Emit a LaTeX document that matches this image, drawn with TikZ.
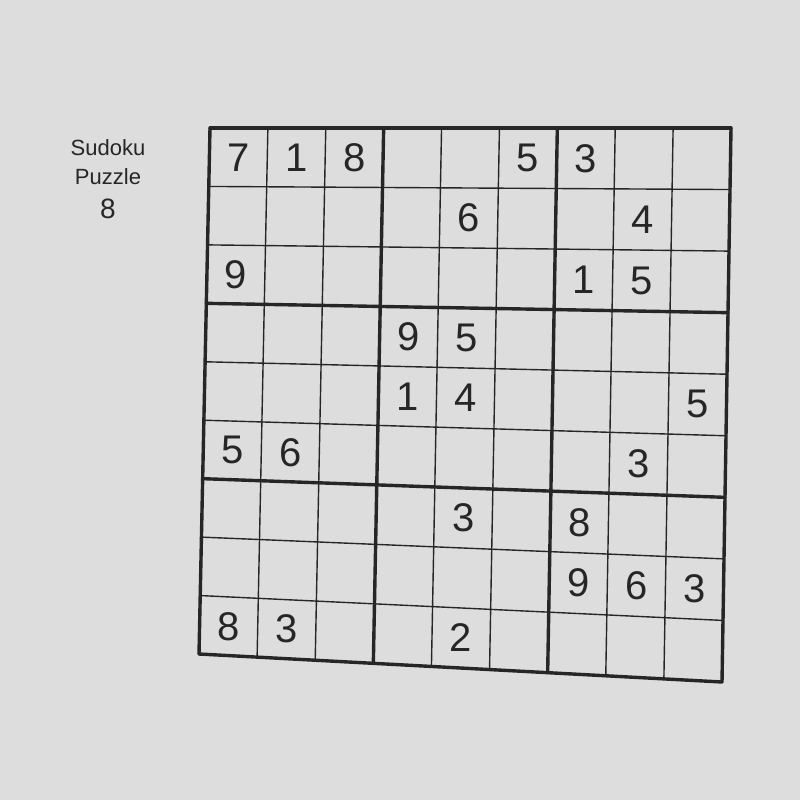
\documentclass[tikz,border=0pt]{standalone}
\usepackage{fontspec}
\setmainfont{Liberation Sans}
\usetikzlibrary{calc,positioning}

\definecolor{paper}{RGB}{221,221,221}
\definecolor{ink}{RGB}{38,38,38}

\tikzset{
  every digit/.style={font=\fontsize{40}{40}\selectfont, text=ink, inner sep=0pt},
  thin rule/.style={draw=ink, line width=1.4pt},
  box rule/.style={draw=ink, line width=3.4pt, line cap=round},
  title/.style={font=\fontsize{22}{22}\selectfont, text=ink, inner sep=0pt},
}

\begin{document}
\begin{tikzpicture}[x=1pt, y=-1pt]
\fill[paper] (0,0) rectangle (800,800);
\useasboundingbox (0,0) rectangle (800,800);

% corners of the (slightly skewed) grid
\coordinate (TL) at (210,128);
\coordinate (TR) at (731,128);
\coordinate (BL) at (199,654);
\coordinate (BR) at (722,682);

\foreach \i in {0,...,9} {
  \coordinate (t\i) at ($(TL)!{\i/9}!(TR)$);
  \coordinate (b\i) at ($(BL)!{\i/9}!(BR)$);
  \coordinate (l\i) at ($(TL)!{\i/9}!(BL)$);
  \coordinate (r\i) at ($(TR)!{\i/9}!(BR)$);
}
\foreach \i in {1,...,9} {
  \coordinate (tc\i) at ($(TL)!{(\i-0.5)/9}!(TR)$);
  \coordinate (bc\i) at ($(BL)!{(\i-0.5)/9}!(BR)$);
}

% grid
\foreach \i in {1,2,4,5,7,8} {
  \draw[thin rule] (t\i) -- (b\i);
  \draw[thin rule] (l\i) -- (r\i);
}
\foreach \i in {0,3,6,9} {
  \draw[box rule] (t\i) -- (b\i);
  \draw[box rule] (l\i) -- (r\i);
}

% givens: row/column/digit
\foreach \r/\c/\d [evaluate={\v=(\r-0.5)/9;}] in {
    1/1/7, 1/2/1, 1/3/8, 1/6/5, 1/7/3,
    2/5/6, 2/8/4,
    3/1/9, 3/7/1, 3/8/5,
    4/4/9, 4/5/5,
    5/4/1, 5/5/4, 5/9/5,
    6/1/5, 6/2/6, 6/8/3,
    7/5/3, 7/7/8,
    8/7/9, 8/8/6, 8/9/3,
    9/1/8, 9/2/3, 9/5/2}
  \node [every digit] (d-\r-\c) at ($(tc\c)!\v!(bc\c)$) {\d};

% caption
\node [title] (cap-sudoku) at (108,148) {Sudoku};
\node [title] (cap-puzzle) at (108,177) {Puzzle};
\node [title, font=\fontsize{28}{28}\selectfont] (cap-num) at (108,209) {8};
\end{tikzpicture}
\end{document}
